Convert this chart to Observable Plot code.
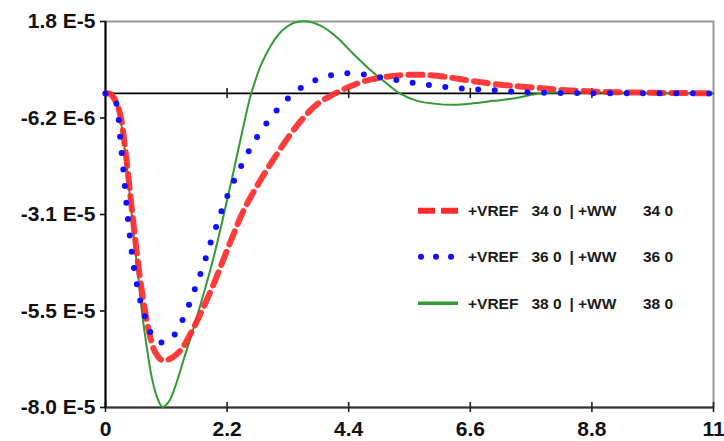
<!DOCTYPE html>
<html><head><meta charset="utf-8">
<script src="https://cdn.jsdelivr.net/npm/d3@7"></script>
<script src="https://cdn.jsdelivr.net/npm/@observablehq/plot@0.6"></script>
<style>
body{margin:0;background:#fff}
#wrap{position:relative;width:724px;height:441px;overflow:hidden}
#legend{position:absolute;left:0;top:0}
</style>
</head><body><div id="wrap"></div>
<script>
// ---- data ----
const xTicks = [0, 2.2, 4.4, 6.6, 8.8, 11];
const xTickLabels = ["0", "2.2", "4.4", "6.6", "8.8", "11"];
const yTicks = [-7.975e-5, -5.525e-5, -3.075e-5, -6.25e-6, 1.825e-5];
const yTickLabels = ["-8.0 E-5", "-5.5 E-5", "-3.1 E-5", "-6.2 E-6", "1.8 E-5"];
const seriesNames = ["+VREF  34 0 | +WW    34 0", "+VREF  36 0 | +WW    36 0", "+VREF  38 0 | +WW    38 0"];

const redX = [0,0.09,0.18,0.27,0.36,0.45,0.54,0.63,0.72,0.81,0.90,1.03,1.18,1.36,1.54,1.72,1.96,2.26,2.50,2.80,3.11,3.35,3.59,3.83,4.16,4.43,4.70,5.07,5.43,5.88,6.24,6.60,7.02,7.45,7.81,8.23,8.96,9.68,11];
const redY = [0,-0.02,-0.19,-0.56,-1.45,-2.59,-3.73,-4.75,-5.56,-6.19,-6.57,-6.78,-6.73,-6.52,-6.10,-5.59,-4.83,-3.77,-2.97,-2.21,-1.52,-1.03,-0.61,-0.27,0,0.18,0.32,0.42,0.47,0.46,0.40,0.32,0.24,0.18,0.14,0.09,0.04,0.02,0].map(v => v * 1e-5);

const blueX = [0,0.09,0.18,0.23,0.27,0.33,0.39,0.45,0.50,0.57,0.65,0.75,0.87,0.99,1.15,1.33,1.47,1.59,1.70,1.81,1.91,2.02,2.13,2.25,2.39,2.54,2.70,2.88,3.08,3.29,3.54,3.81,4.11,4.40,4.73,5.04,5.34,5.64,5.93,6.24,6.54,6.84,7.15,7.45,7.74,8.35,9.68,11];
const blueY = [0,-0.03,-0.19,-0.57,-1.20,-2.04,-2.97,-3.73,-4.29,-4.87,-5.38,-5.81,-6.22,-6.32,-6.29,-5.93,-5.51,-5.07,-4.65,-4.20,-3.75,-3.31,-2.87,-2.45,-2.03,-1.60,-1.20,-0.82,-0.46,-0.14,0.14,0.34,0.47,0.51,0.47,0.39,0.32,0.25,0.20,0.15,0.11,0.09,0.07,0.04,0.025,0.01,0.003,0].map(v => v * 1e-5);

const greenX = [0,0.09,0.18,0.27,0.36,0.45,0.54,0.60,0.66,0.75,0.84,0.94,1.03,1.15,1.27,1.42,1.57,1.74,1.96,2.14,2.32,2.47,2.62,2.71,2.80,2.99,3.17,3.41,3.62,3.89,4.19,4.43,4.74,5.10,5.34,5.64,5.94,6.30,6.66,7.02,7.38,7.74,8.05,8.59,9.68,11];
const greenY = [0,-0.015,-0.13,-0.64,-1.58,-2.72,-3.99,-4.75,-5.56,-6.47,-7.23,-7.74,-7.96,-7.82,-7.41,-6.73,-6.07,-5.26,-4.14,-3.08,-1.96,-1.00,-0.08,0.32,0.68,1.21,1.56,1.79,1.83,1.72,1.42,1.08,0.66,0.24,-0.015,-0.19,-0.26,-0.29,-0.25,-0.19,-0.13,-0.03,0.02,0.03,0.01,0].map(v => v * 1e-5);

// ---- build ----
const toRows = (X, Y) => X.map((x, i) => ({x, y: Y[i]}));
const red = toRows(redX, redY), blue = toRows(blueX, blueY), green = toRows(greenX, greenY);
const yMin = yTicks[0], yMax = yTicks[yTicks.length - 1];
const redStyle = {stroke: "#ff2a2a", strokeWidth: 6, strokeDasharray: "14,8", strokeOpacity: 0.92};
const blueStyle = {stroke: "#1010ff", strokeWidth: 6, strokeDasharray: "0,16.5", strokeLinecap: "round"};
const greenStyle = {stroke: "#339933", strokeWidth: 2};

const chart = Plot.plot({
  width: 724, height: 441,
  marginLeft: 105, marginRight: 11, marginTop: 21, marginBottom: 34,
  style: {fontFamily: "'Liberation Sans', Arial, sans-serif", fontWeight: "bold", fontSize: "21px", color: "#111", background: "#fff"},
  x: {domain: [0, 11]},
  y: {domain: [yMin, yMax]},
  marks: [
    Plot.frame({stroke: "#999", strokeWidth: 2}),
    Plot.ruleY([yMin], {stroke: "#333", strokeWidth: 2}),
    Plot.ruleY([0], {stroke: "#000", strokeWidth: 1.6}),
    Plot.ruleX(xTicks, {x: d => d, y1: () => yMin, y2: () => yMin, insetTop: -5, insetBottom: -5, stroke: "#222", strokeWidth: 1.6}),
    Plot.ruleX(xTicks.slice(1, -1), {x: d => d, y1: () => 0, y2: () => 0, insetTop: -5, insetBottom: -5, stroke: "#222", strokeWidth: 1.6}),
    Plot.ruleX([0], {stroke: "#000", strokeWidth: 2}),
    Plot.axisY({ticks: yTicks, tickFormat: d => yTickLabels[yTicks.indexOf(d)], tickSize: 5, tickPadding: 5, strokeWidth: 1.6, label: null}),
    Plot.axisX({ticks: xTicks, tickFormat: d => xTickLabels[xTicks.indexOf(d)], tickSize: 0, tickPadding: 14, label: null}),
    Plot.line(green, {x: "x", y: "y", curve: "catmull-rom", ...greenStyle}),
    Plot.line(red, {x: "x", y: "y", curve: "catmull-rom", ...redStyle}),
    Plot.line(blue, {x: "x", y: "y", curve: "catmull-rom", ...blueStyle})
  ]
});
const wrap = document.getElementById("wrap");
wrap.appendChild(chart);

// ---- legend ----
const styles = [redStyle, blueStyle, greenStyle];
const leg = d3.create("svg").attr("id", "legend").attr("width", 724).attr("height", 441)
  .style("font-family", "'Liberation Sans', Arial, sans-serif").style("font-weight", "bold").style("font-size", "15.5px");
const rowY = [210.7, 256.7, 303.3];
seriesNames.forEach((name, i) => {
  const g = leg.append("g").attr("transform", `translate(0,${rowY[i]})`);
  const s = styles[i];
  const ln = g.append("line").attr("x1", i === 1 ? 421 : 418).attr("x2", 458).attr("y1", 0).attr("y2", 0)
    .attr("stroke", s.stroke).attr("stroke-width", i === 2 ? 3.5 : s.strokeWidth);
  if (i === 0) ln.attr("stroke-dasharray", "17,6");
  if (i === 1) ln.attr("stroke-dasharray", "0,15").attr("stroke-linecap", "round");
  const parts = name.split(/\s+/);
  const pieces = [[parts[0], 468], [parts[1] + " " + parts[2], 531.5], [parts[3], 569.5], [parts[4], 578], [parts[5] + " " + parts[6], 643]];
  pieces.forEach(([t, x]) => g.append("text").attr("x", x).attr("y", 5.5).attr("fill", "#1a1a1a").text(t));
});
wrap.appendChild(leg.node());
</script>
</body></html>
